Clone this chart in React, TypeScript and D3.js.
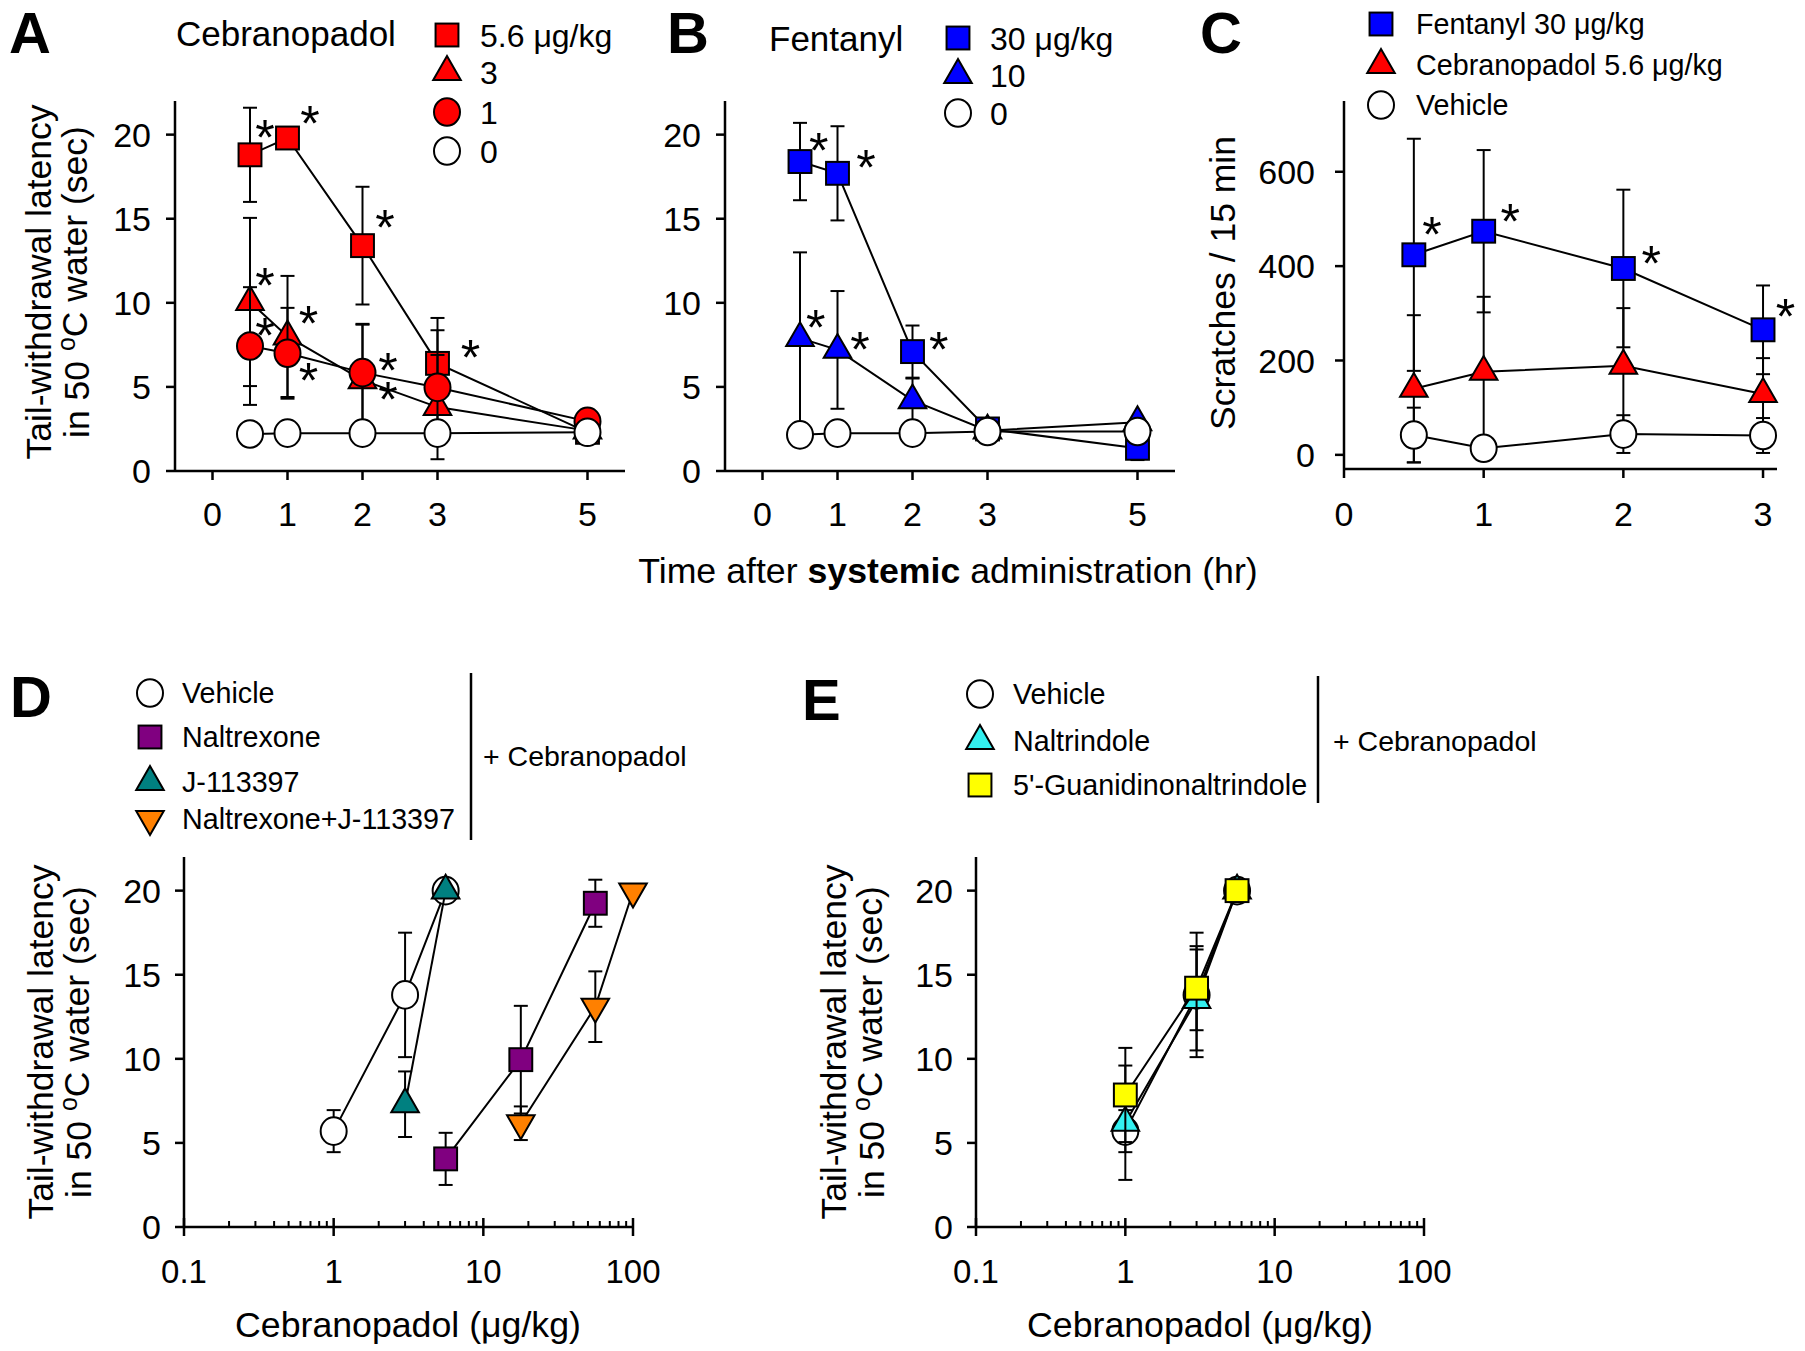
import React from "react";
import * as d3 from "d3";

const FONT = "'Liberation Sans', Arial, Helvetica, sans-serif";

// ---------- Panel A: Cebranopadol time course ----------
const hoursAB = [0.5, 1, 2, 3, 5];
const timeTicksAB = [0, 1, 2, 3, 5];
const latencyTicks = [0, 5, 10, 15, 20];
const cebA_56 = [18.8, 19.8, 13.4, 6.4, 2.3];
const cebA_56_err = [2.8, 0, 3.5, 2.7, 0.3];
const cebA_3 = [10.05, 8.0, 5.4, 3.8, 2.4];
const cebA_3_err = [5.0, 3.6, 3.3, 3.1, 0.2];
const cebA_1 = [7.43, 7.0, 5.85, 4.97, 2.95];
const cebA_1_err = [3.5, 2.7, 2.9, 3.4, 0.7];
const cebA_0 = [2.2, 2.25, 2.25, 2.25, 2.3];
const cebA_0_err = [0, 0, 0, 0, 0];
const legendA = ["5.6 μg/kg", "3", "1", "0"];
const starsA_x = [0.7, 1.3, 2.3, 3.44, 0.7, 1.28, 0.7, 1.28, 2.34, 2.34];
const starsA_y = [20.3, 21.1, 14.95, 7.2, 11.5, 9.2, 8.5, 5.8, 6.4, 4.7];

// ---------- Panel B: Fentanyl time course ----------
const fenB_30 = [18.4, 17.7, 7.1, 2.5, 1.35];
const fenB_30_err = [2.3, 2.8, 1.55, 0.2, 0.7];
const fenB_10 = [7.9, 7.2, 4.2, 2.4, 2.9];
const fenB_10_err = [5.1, 3.5, 1.3, 0.2, 0.2];
const fenB_0 = [2.15, 2.25, 2.25, 2.35, 2.35];
const fenB_0_err = [0, 0, 0, 0, 0];
const legendB = ["30 μg/kg", "10", "0"];
const starsB_x = [0.75, 1.38, 2.35, 0.71, 1.3];
const starsB_y = [19.5, 18.5, 7.7, 9.0, 7.7];

// ---------- Panel C: scratching ----------
const hoursC = [0.5, 1, 2, 3];
const timeTicksC = [0, 1, 2, 3];
const scratchTicks = [0, 200, 400, 600];
const fentC = [424, 474, 395, 265];
const fentC_err = [246, 172, 167, 94];
const cebC = [140, 176, 189, 129];
const cebC_err = [156, 159, 122, 76];
const vehC = [42, 14, 44, 41];
const vehC_err = [58, 0, 40, 37];
const legendC = ["Fentanyl 30 μg/kg", "Cebranopadol 5.6 μg/kg", "Vehicle"];
const starsC_x = [0.63, 1.19, 2.2, 3.16];
const starsC_y = [482, 510, 422, 309];

// ---------- Panel D: antagonists ----------
const logTicks = [0.1, 1, 10, 100];
const logTickLabels = ["0.1", "1", "10", "100"];
const vehD_dose = [1, 3, 5.6];
const vehD = [5.7, 13.8, 20.0];
const vehD_err = [1.25, 3.7, 0];
const nalD_dose = [5.6, 17.8, 56];
const nalD = [4.05, 9.95, 19.25];
const nalD_err = [1.55, 3.2, 1.4];
const jD_dose = [3, 5.6];
const jD = [7.3, 20.0];
const jD_err = [1.95, 0];
const comboD_dose = [17.8, 56, 100];
const comboD = [6.17, 13.1, 19.95];
const comboD_err = [1.0, 2.1, 0];
const legendD = ["Vehicle", "Naltrexone", "J-113397", "Naltrexone+J-113397"];

// ---------- Panel E: delta / kappa antagonists ----------
const vehE_dose = [1, 3, 5.6];
const vehE = [5.7, 13.8, 20.0];
const vehE_err = [1.25, 3.7, 0];
const ntiE_dose = [1, 3, 5.6];
const ntiE = [6.2, 13.5, 20.0];
const ntiE_err = [3.4, 3.0, 0];
const gntiE_dose = [1, 3, 5.6];
const gntiE = [7.85, 14.2, 20.0];
const gntiE_err = [2.8, 2.5, 0];
const legendE = ["Vehicle", "Naltrindole", "5'-Guanidinonaltrindole"];

const RED = "#FF0000";
const BLUE = "#0000FF";
const WHITE = "#FFFFFF";
const PURPLE = "#800080";
const TEAL = "#008080";
const ORANGE = "#FF8000";
const CYAN = "#33F0F0";
const YELLOW = "#FFFF00";

type Shape = "square" | "triangle" | "circle" | "tdown";
type Series = { x: number[]; y: number[]; err: number[]; shape: Shape; fill: string };

function Marker({ cx, cy, shape, fill, size }: { cx: number; cy: number; shape: Shape; fill: string; size: number }) {
  const common = { fill, stroke: "#000", strokeWidth: 2 };
  if (shape === "circle") {
    return <ellipse cx={cx} cy={cy} rx={size / 2} ry={size / 2 + 0.8} {...common} />;
  }
  if (shape === "square") {
    const s = size * 0.88;
    return <rect x={cx - s / 2} y={cy - s / 2} width={s} height={s} {...common} />;
  }
  const s = size * 1.06;
  const h = s * 0.866;
  if (shape === "triangle") {
    const pts = [
      [cx, cy - (2 * h) / 3],
      [cx - s / 2, cy + h / 3],
      [cx + s / 2, cy + h / 3],
    ];
    return <polygon points={pts.map((p) => p.join(",")).join(" ")} {...common} strokeLinejoin="miter" />;
  }
  const pts = [
    [cx, cy + (2 * h) / 3],
    [cx - s / 2, cy - h / 3],
    [cx + s / 2, cy - h / 3],
  ];
  return <polygon points={pts.map((p) => p.join(",")).join(" ")} {...common} strokeLinejoin="miter" />;
}

function SeriesG({ s, x, y, size }: { s: Series; x: (v: number) => number; y: (v: number) => number; size: number }) {
  const pts: [number, number][] = s.x.map((xv, i) => [x(xv), y(s.y[i])]);
  const line = d3.line();
  const cap = 7;
  return (
    <g>
      <path d={line(pts) || ""} fill="none" stroke="#000" strokeWidth={2} />
      {s.y.map((v, i) =>
        s.err[i] > 0 ? (
          <g key={"e" + i} stroke="#000" strokeWidth={2}>
            <line x1={x(s.x[i])} x2={x(s.x[i])} y1={y(v + s.err[i])} y2={y(v - s.err[i])} />
            <line x1={x(s.x[i]) - cap} x2={x(s.x[i]) + cap} y1={y(v + s.err[i])} y2={y(v + s.err[i])} />
            <line x1={x(s.x[i]) - cap} x2={x(s.x[i]) + cap} y1={y(v - s.err[i])} y2={y(v - s.err[i])} />
          </g>
        ) : null
      )}
      {pts.map((p, i) => (
        <Marker key={"m" + i} cx={p[0]} cy={p[1]} shape={s.shape} fill={s.fill} size={size} />
      ))}
    </g>
  );
}

function Stars({ xs, ys, x, y }: { xs: number[]; ys: number[]; x: (v: number) => number; y: (v: number) => number }) {
  return (
    <g>
      {xs.map((xv, i) => (
        <text key={i} x={x(xv)} y={y(ys[i]) + 25} fontSize={50} fontFamily={FONT} textAnchor="middle">
          *
        </text>
      ))}
    </g>
  );
}

function YAxis({ x, y, ticks, top, bottom, gap = 24 }: { x: number; y: (v: number) => number; ticks: number[]; top: number; bottom: number; gap?: number }) {
  return (
    <g>
      <line x1={x} x2={x} y1={top} y2={bottom} stroke="#000" strokeWidth={2.5} />
      {ticks.map((t) => (
        <g key={t}>
          <line x1={x - 9} x2={x} y1={y(t)} y2={y(t)} stroke="#000" strokeWidth={2.5} />
          <text x={x - gap} y={y(t)} dy="0.36em" textAnchor="end" fontSize={34} fontFamily={FONT}>
            {t}
          </text>
        </g>
      ))}
    </g>
  );
}

function XAxisLinear({ y0, x, ticks, left, right, labelY }: { y0: number; x: (v: number) => number; ticks: number[]; left: number; right: number; labelY: number }) {
  return (
    <g>
      <line x1={left} x2={right} y1={y0} y2={y0} stroke="#000" strokeWidth={2.5} />
      {ticks.map((t) => (
        <g key={t}>
          <line x1={x(t)} x2={x(t)} y1={y0} y2={y0 + 9} stroke="#000" strokeWidth={2.5} />
          <text x={x(t)} y={labelY} dy="0.36em" textAnchor="middle" fontSize={34} fontFamily={FONT}>
            {t}
          </text>
        </g>
      ))}
    </g>
  );
}

function XAxisLog({ y0, x, labelY }: { y0: number; x: d3.ScaleLogarithmic<number, number>; labelY: number }) {
  const minors: number[] = [];
  [0.1, 1, 10].forEach((dec) => {
    for (let k = 2; k <= 9; k++) minors.push(dec * k);
  });
  const [d0, d1] = x.domain();
  return (
    <g>
      <line x1={x(d0)} x2={x(d1)} y1={y0} y2={y0} stroke="#000" strokeWidth={2.5} />
      {minors.map((m) => (
        <line key={m} x1={x(m)} x2={x(m)} y1={y0} y2={y0 - 6} stroke="#000" strokeWidth={2} />
      ))}
      {logTicks.map((t, i) => (
        <g key={t}>
          <line x1={x(t)} x2={x(t)} y1={y0 - 9} y2={y0 + 9} stroke="#000" strokeWidth={2.5} />
          <text x={x(t)} y={labelY} dy="0.36em" textAnchor="middle" fontSize={33} fontFamily={FONT}>
            {logTickLabels[i]}
          </text>
        </g>
      ))}
    </g>
  );
}

function LatencyTitle({ x1, x2, cy }: { x1: number; x2: number; cy: number }) {
  return (
    <g fontFamily={FONT} fontSize={35.5}>
      <text transform={`translate(${x1},${cy}) rotate(-90)`} textAnchor="middle" dy="0.36em">
        Tail-withdrawal latency
      </text>
      <text transform={`translate(${x2},${cy}) rotate(-90)`} textAnchor="middle" dy="0.36em">
        in 50 <tspan fontSize={25} dy="-0.55em">o</tspan>
        <tspan dy="0.35em">C water (sec)</tspan>
      </text>
    </g>
  );
}

function Legend({ x, tx, ys, labels, shapes, fills, fs, size }: { x: number; tx: number; ys: number[]; labels: string[]; shapes: Shape[]; fills: string[]; fs: number; size: number }) {
  return (
    <g>
      {labels.map((l, i) => (
        <g key={l}>
          <Marker cx={x} cy={ys[i]} shape={shapes[i]} fill={fills[i]} size={size} />
          <text x={tx} y={ys[i]} dy="0.36em" fontSize={fs} fontFamily={FONT}>
            {l}
          </text>
        </g>
      ))}
    </g>
  );
}

export default function App() {
  // scales
  const yA = d3.scaleLinear().domain([0, 22]).range([471, 101]);
  const xA = d3.scaleLinear().domain([-0.5, 5.5]).range([175, 625]);
  const xB = d3.scaleLinear().domain([-0.5, 5.5]).range([725, 1175]);
  const xC = d3.scaleLinear().domain([0, 3.1]).range([1344, 1777]);
  const yC = d3.scaleLinear().domain([-30, 750]).range([469, 101]);
  const yD = d3.scaleLinear().domain([0, 22]).range([1227, 857]);
  const xD = d3.scaleLog().domain([0.1, 100]).range([184, 633]);
  const xE = d3.scaleLog().domain([0.1, 100]).range([976, 1424]);

  const seriesA: Series[] = [
    { x: hoursAB, y: cebA_56, err: cebA_56_err, shape: "square", fill: RED },
    { x: hoursAB, y: cebA_3, err: cebA_3_err, shape: "triangle", fill: RED },
    { x: hoursAB, y: cebA_1, err: cebA_1_err, shape: "circle", fill: RED },
    { x: hoursAB, y: cebA_0, err: cebA_0_err, shape: "circle", fill: WHITE },
  ];
  const seriesB: Series[] = [
    { x: hoursAB, y: fenB_30, err: fenB_30_err, shape: "square", fill: BLUE },
    { x: hoursAB, y: fenB_10, err: fenB_10_err, shape: "triangle", fill: BLUE },
    { x: hoursAB, y: fenB_0, err: fenB_0_err, shape: "circle", fill: WHITE },
  ];
  const seriesC: Series[] = [
    { x: hoursC, y: fentC, err: fentC_err, shape: "square", fill: BLUE },
    { x: hoursC, y: cebC, err: cebC_err, shape: "triangle", fill: RED },
    { x: hoursC, y: vehC, err: vehC_err, shape: "circle", fill: WHITE },
  ];
  const seriesD: Series[] = [
    { x: vehD_dose, y: vehD, err: vehD_err, shape: "circle", fill: WHITE },
    { x: nalD_dose, y: nalD, err: nalD_err, shape: "square", fill: PURPLE },
    { x: jD_dose, y: jD, err: jD_err, shape: "triangle", fill: TEAL },
    { x: comboD_dose, y: comboD, err: comboD_err, shape: "tdown", fill: ORANGE },
  ];
  const seriesE: Series[] = [
    { x: vehE_dose, y: vehE, err: vehE_err, shape: "circle", fill: WHITE },
    { x: ntiE_dose, y: ntiE, err: ntiE_err, shape: "triangle", fill: CYAN },
    { x: gntiE_dose, y: gntiE, err: gntiE_err, shape: "square", fill: YELLOW },
  ];

  const panelLetter = (t: string, x: number, y: number) => (
    <text x={x} y={y} fontSize={58} fontWeight="bold" fontFamily={FONT}>
      {t}
    </text>
  );

  const MS = 26;

  return (
    <svg width={1805} height={1351} style={{ position: "absolute", left: 0, top: 0, background: "#fff" }}>
      <rect width={1805} height={1351} fill="#fff" />

      {/* Panel A */}
      {panelLetter("A", 9, 53)}
      <text x={176} y={33} dy="0.36em" fontSize={35} fontFamily={FONT}>Cebranopadol</text>
      <Legend x={447} tx={480} ys={[35, 72, 112, 151]} labels={legendA} shapes={["square", "triangle", "circle", "circle"]} fills={[RED, RED, RED, WHITE]} fs={32} size={MS} />
      <LatencyTitle x1={38} x2={76} cy={282} />
      <YAxis x={175} y={yA} ticks={latencyTicks} top={101} bottom={471} />
      <XAxisLinear y0={471} x={xA} ticks={timeTicksAB} left={175} right={625} labelY={514} />
      {seriesA.map((s, i) => (
        <SeriesG key={i} s={s} x={xA} y={yA} size={MS} />
      ))}
      <Stars xs={starsA_x} ys={starsA_y} x={xA} y={yA} />

      {/* Panel B */}
      {panelLetter("B", 667, 53)}
      <text x={769} y={38} dy="0.36em" fontSize={35} fontFamily={FONT}>Fentanyl</text>
      <Legend x={958} tx={990} ys={[38, 75, 113]} labels={legendB} shapes={["square", "triangle", "circle"]} fills={[BLUE, BLUE, WHITE]} fs={32} size={MS} />
      <YAxis x={725} y={yA} ticks={latencyTicks} top={101} bottom={471} />
      <XAxisLinear y0={471} x={xB} ticks={timeTicksAB} left={725} right={1175} labelY={514} />
      {seriesB.map((s, i) => (
        <SeriesG key={i} s={s} x={xB} y={yA} size={MS} />
      ))}
      <Stars xs={starsB_x} ys={starsB_y} x={xB} y={yA} />

      {/* Panel C */}
      {panelLetter("C", 1200, 53)}
      <Legend x={1381} tx={1416} ys={[24, 65, 105]} labels={legendC} shapes={["square", "triangle", "circle"]} fills={[BLUE, RED, WHITE]} fs={28.7} size={MS} />
      <text transform="translate(1222,283) rotate(-90)" textAnchor="middle" dy="0.36em" fontSize={35.5} fontFamily={FONT}>
        Scratches / 15 min
      </text>
      <YAxis x={1344} y={yC} ticks={scratchTicks} top={101} bottom={469} gap={29} />
      <XAxisLinear y0={469} x={xC} ticks={timeTicksC} left={1344} right={1777} labelY={514} />
      {seriesC.map((s, i) => (
        <SeriesG key={i} s={s} x={xC} y={yC} size={MS} />
      ))}
      <Stars xs={starsC_x} ys={starsC_y} x={xC} y={yC} />

      <text x={948} y={570} dy="0.36em" textAnchor="middle" fontSize={35.7} fontFamily={FONT}>
        Time after <tspan fontWeight="bold">systemic</tspan> administration (hr)
      </text>

      {/* Panel D */}
      {panelLetter("D", 10, 717)}
      <Legend x={150} tx={182} ys={[693, 737, 782, 819]} labels={legendD} shapes={["circle", "square", "triangle", "tdown"]} fills={[WHITE, PURPLE, TEAL, ORANGE]} fs={28.7} size={MS} />
      <line x1={471} x2={471} y1={673} y2={840} stroke="#000" strokeWidth={2.5} />
      <text x={483} y={756} dy="0.36em" fontSize={28.5} fontFamily={FONT}>+ Cebranopadol</text>
      <LatencyTitle x1={40} x2={78} cy={1042} />
      <YAxis x={184} y={yD} ticks={latencyTicks} top={857} bottom={1227} gap={23} />
      <XAxisLog y0={1227} x={xD} labelY={1271} />
      <text x={408} y={1324} dy="0.36em" textAnchor="middle" fontSize={35.7} fontFamily={FONT}>Cebranopadol (μg/kg)</text>
      {seriesD.map((s, i) => (
        <SeriesG key={i} s={s} x={xD} y={yD} size={MS} />
      ))}

      {/* Panel E */}
      {panelLetter("E", 802, 720)}
      <Legend x={980} tx={1013} ys={[694, 741, 785]} labels={legendE} shapes={["circle", "triangle", "square"]} fills={[WHITE, CYAN, YELLOW]} fs={28.7} size={MS} />
      <line x1={1318} x2={1318} y1={676} y2={803} stroke="#000" strokeWidth={2.5} />
      <text x={1333} y={741} dy="0.36em" fontSize={28.5} fontFamily={FONT}>+ Cebranopadol</text>
      <LatencyTitle x1={833} x2={871} cy={1042} />
      <YAxis x={976} y={yD} ticks={latencyTicks} top={857} bottom={1227} gap={23} />
      <XAxisLog y0={1227} x={xE} labelY={1271} />
      <text x={1200} y={1324} dy="0.36em" textAnchor="middle" fontSize={35.7} fontFamily={FONT}>Cebranopadol (μg/kg)</text>
      {seriesE.map((s, i) => (
        <SeriesG key={i} s={s} x={xE} y={yD} size={MS} />
      ))}
    </svg>
  );
}
